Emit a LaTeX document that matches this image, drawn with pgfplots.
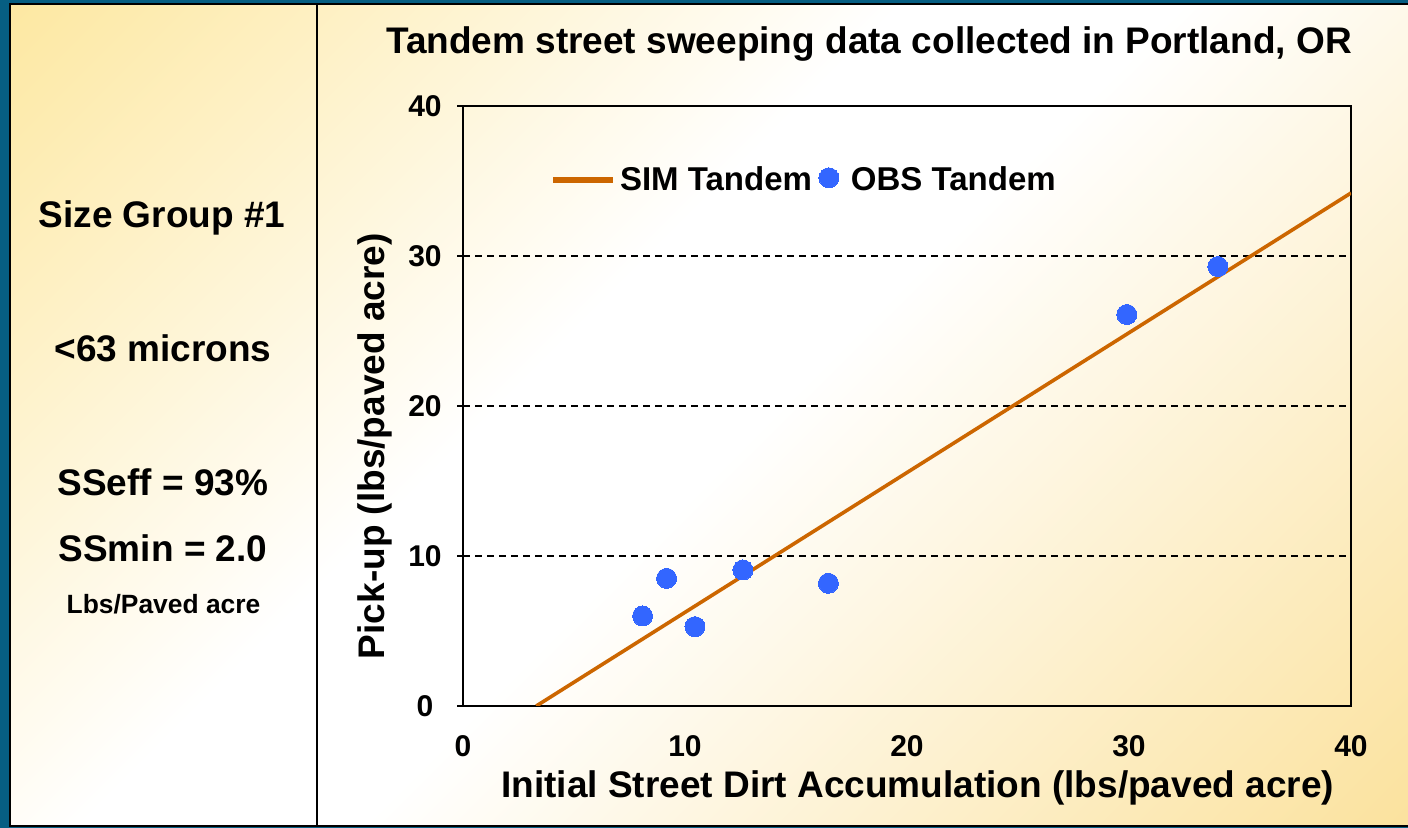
\documentclass[border=0pt]{standalone}
\usepackage{fontspec}
\setmainfont{Liberation Sans}
\usepackage{pgfplots}
\pgfplotsset{compat=1.18}
\definecolor{bordblue}{RGB}{6,94,130}
\definecolor{bgyel}{RGB}{253,232,162}
\definecolor{bgyel2}{RGB}{251,226,158}
\definecolor{simorange}{RGB}{204,102,0}
\definecolor{obsblue}{RGB}{51,102,255}
\pgfdeclarehorizontalshading{slidebg}{100bp}{color(0bp)=(bgyel); color(14.6bp)=(bgyel); color(43bp)=(white); color(52bp)=(white); color(85.4bp)=(bgyel2); color(100bp)=(bgyel2)}
\newcommand{\bigtxt}{\fontsize{18.5}{22}\selectfont\bfseries}
\pgfplotsset{
  simleg/.style={legend image code/.code={\draw[##1, line width=2.8pt] (0pt,0pt) -- (30pt,0pt);}},
  obsleg/.style={legend image code/.code={\path[draw=none, fill=none] (-1.5pt,0pt) rectangle (14pt,0.1pt); \draw[##1] plot coordinates {(5pt,1pt)};}},
}
\begin{document}
\begin{tikzpicture}
\useasboundingbox (0,0) rectangle (704pt,414pt);
\clip (0,0) rectangle (704pt,414pt);
\begin{scope}[x=0.5pt,y=0.5pt]
\fill[bordblue] (0,0) rectangle (1408,828);
\shade[shading=slidebg, shading angle=-45] (10,1.5) rectangle (1408,823.5);
\draw[line width=1pt] (1420,823.5) -- (10,823.5) -- (10,1.5) -- (1420,1.5);
\draw[line width=1pt] (316.5,1.5) -- (316.5,823.5);
\node[anchor=base, inner sep=0pt] at (869,774) {\bigtxt Tandem street sweeping data collected in Portland, OR};
\node[anchor=base, inner sep=0pt] at (162,600) {\bigtxt Size Group \#1};
\node[anchor=base, inner sep=0pt] at (163,466) {\bigtxt <63 microns};
\node[anchor=base, inner sep=0pt] at (163,332) {\bigtxt SSeff = 93\%};
\node[anchor=base, inner sep=0pt] at (163,266) {\bigtxt SSmin = 2.0};
\node[anchor=base, inner sep=0pt] at (163.5,214) {\fontsize{13.2}{16}\selectfont\bfseries Lbs/Paved acre};
\end{scope}
\begin{axis}[
  at={(231.5pt,61pt)}, anchor=south west,
  width=444pt, height=300pt, scale only axis,
  xmin=0, xmax=40, ymin=0, ymax=40,
  xtick={0,10,20,30,40}, ytick={0,10,20,30,40},
  axis line style={line width=0.8pt},
  tick style={black, line width=0.8pt},
  xtick style={draw=none},
  ytick pos=left,
  ytick align=outside, major tick length=3pt,
  ymajorgrids, grid style={black, line width=0.7pt, dash pattern=on 3.5pt off 2.5pt},
  /pgf/number format/assume math mode=true,
  ticklabel style={font=\fontsize{15}{18}\selectfont\bfseries},
  xticklabel style={anchor=center, yshift=-20.25pt},
  yticklabel style={anchor=center, xshift=-16pt},
  xlabel={Initial Street Dirt Accumulation (lbs/paved acre)},
  ylabel={Pick-up (lbs/paved acre)},
  label style={font=\bigtxt},
  xlabel style={at={(axis description cs:0.512,-0.1367)}, anchor=center},
  ylabel style={at={(axis description cs:-0.099,0.433)}, anchor=center},
  legend style={at={(axis description cs:0.098,0.877)}, anchor=west, draw=none, fill=none, inner sep=0pt, legend columns=-1, font=\fontsize{16.5}{19}\selectfont\bfseries, /tikz/every even column/.append style={column sep=0pt}},
]
\addplot[simorange, line width=1.8pt, simleg] coordinates {(3.3,0) (40,34.2)};
\addlegendentry{SIM Tandem}
\addplot[obsblue, only marks, mark=*, mark size=5pt, mark options={draw=obsblue, fill=obsblue, line width=0pt}, obsleg] coordinates {
(8.09,6.0) (9.17,8.51) (10.45,5.29) (12.61,9.07) (16.46,8.18) (29.9,26.1) (34.0,29.3)};
\addlegendentry{OBS Tandem}
\end{axis}
\end{tikzpicture}
\end{document}
